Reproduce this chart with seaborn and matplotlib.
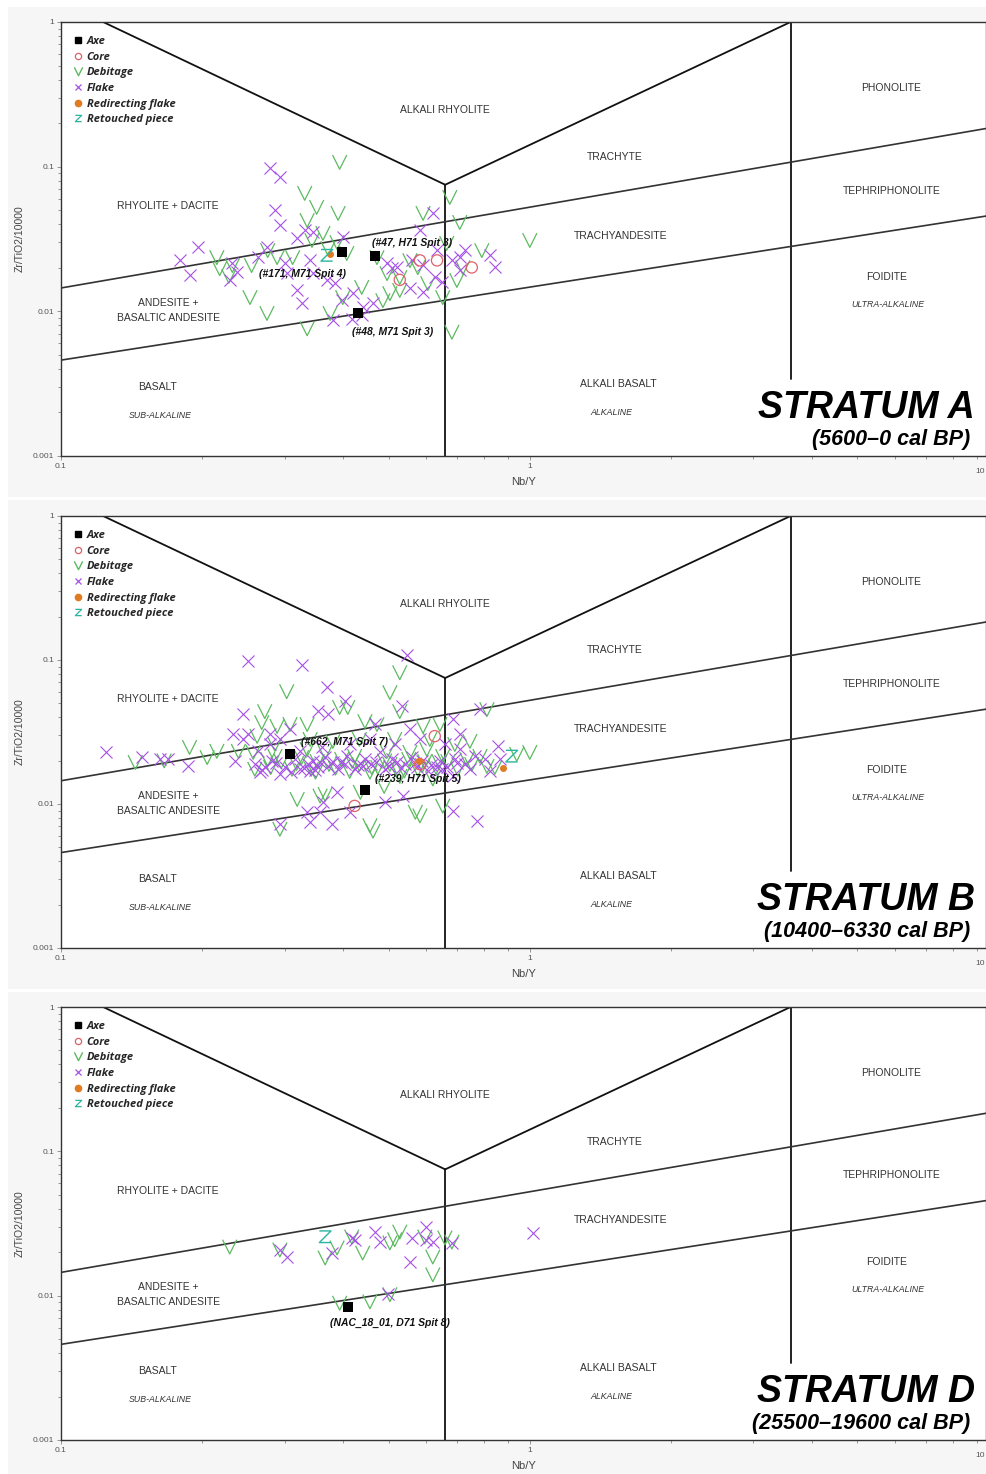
import matplotlib
matplotlib.use("Agg")
import matplotlib.pyplot as plt
import seaborn as sns
from matplotlib.lines import Line2D
from matplotlib.patches import Rectangle
from matplotlib.ticker import FixedLocator, FixedFormatter, LogLocator, NullFormatter

sns.set_theme(style="white")
plt.rcParams["font.family"] = ["Liberation Sans", "DejaVu Sans"]

# =====================================
# Colours / markers
# =====================================

AXE_C = "black"
CORE_C = "#e0606a"
DEB_C = "#5cba60"
FLAKE_C = "#a650e8"
REDIR_C = "#e07b22"
RETOUCH_C = "#2ab5a0"

V_MARK = [(-1, 1), (0, -1), (1, 1)]
Z_MARK = [(-1, 1), (1, 1), (-1, -1), (1, -1)]

# =====================================
# Stratum A  (Nb/Y, Zr/TiO2/10000)
# =====================================

a_flake = [(0.279, 0.0977), (0.293, 0.0846), (0.286, 0.0500), (0.293, 0.0394), (0.319, 0.0320),
           (0.345, 0.0352), (0.331, 0.0364), (0.196, 0.0277), (0.179, 0.0225), (0.188, 0.0177),
           (0.232, 0.0215), (0.237, 0.0186), (0.229, 0.0164), (0.263, 0.0236), (0.275, 0.0277),
           (0.300, 0.0215), (0.303, 0.0183), (0.319, 0.0140), (0.327, 0.0114), (0.340, 0.0225),
           (0.345, 0.0183), (0.369, 0.0164), (0.384, 0.0156), (0.399, 0.0325), (0.419, 0.0133),
           (0.397, 0.0119), (0.440, 0.0107), (0.380, 0.0087), (0.417, 0.0089), (0.438, 0.0094),
           (0.496, 0.0215), (0.508, 0.0198), (0.521, 0.0201), (0.560, 0.0225), (0.592, 0.0208),
           (0.583, 0.0364), (0.621, 0.0477), (0.634, 0.0264), (0.682, 0.0225), (0.709, 0.0236),
           (0.627, 0.0172), (0.649, 0.0159), (0.709, 0.0192), (0.822, 0.0244), (0.842, 0.0201),
           (0.555, 0.0144), (0.592, 0.0135), (0.463, 0.0114), (0.727, 0.0264)]
a_debitage = [(0.393, 0.1075), (0.331, 0.0656), (0.351, 0.0525), (0.390, 0.0477), (0.335, 0.0426),
              (0.343, 0.0310), (0.362, 0.0347), (0.371, 0.0273), (0.407, 0.0252), (0.215, 0.0236),
              (0.232, 0.0208), (0.218, 0.0198), (0.228, 0.0175), (0.255, 0.0208), (0.276, 0.0264),
              (0.289, 0.0236), (0.312, 0.0236), (0.253, 0.0125), (0.275, 0.0097), (0.335, 0.0076),
              (0.375, 0.0097), (0.472, 0.0236), (0.496, 0.0183), (0.528, 0.0172), (0.555, 0.0225),
              (0.577, 0.0201), (0.592, 0.0477), (0.606, 0.0156), (0.528, 0.0140), (0.503, 0.0133),
              (0.486, 0.0119), (0.675, 0.0615), (0.709, 0.0413), (0.665, 0.0296), (0.720, 0.0201),
              (0.699, 0.0164), (0.790, 0.0264), (1.000, 0.0310), (0.652, 0.0125), (0.682, 0.0072),
              (0.438, 0.0147), (0.399, 0.0125), (0.388, 0.0300)]
a_core = [(0.528, 0.0165), (0.583, 0.0225), (0.634, 0.0225), (0.752, 0.0201)]
a_axe = [(0.397, 0.0256), (0.467, 0.0240), (0.430, 0.0098)]
a_redirect = [(0.375, 0.0250)]
a_retouch = [(0.369, 0.0244)]
a_notes = [("(#171, M71 Spit 4)", 0.327, 0.0180),
           ("(#47, H71 Spit 3)", 0.560, 0.0296),
           ("(#48, M71 Spit 3)", 0.510, 0.0072)]

# =====================================
# Stratum B
# =====================================

b_flake = [(0.250, 0.098), (0.326, 0.093), (0.369, 0.065), (0.244, 0.042), (0.353, 0.044),
           (0.125, 0.0229), (0.149, 0.0211), (0.163, 0.0205), (0.169, 0.0205), (0.187, 0.0183),
           (0.233, 0.0305), (0.244, 0.0282), (0.250, 0.0305), (0.279, 0.0305), (0.293, 0.0282),
           (0.308, 0.033), (0.235, 0.0198), (0.266, 0.0167), (0.293, 0.0161), (0.340, 0.0169),
           (0.357, 0.0195), (0.357, 0.0088), (0.293, 0.0073), (0.340, 0.0075), (0.547, 0.109),
           (0.403, 0.0516), (0.371, 0.042), (0.533, 0.0477), (0.467, 0.0358), (0.685, 0.0388),
           (0.783, 0.0454), (0.855, 0.0252), (0.863, 0.0205), (0.764, 0.0215), (0.709, 0.024),
           (0.685, 0.0156), (0.634, 0.018), (0.575, 0.018), (0.521, 0.0195), (0.479, 0.0229),
           (0.440, 0.0183), (0.407, 0.0215), (0.380, 0.0195), (0.345, 0.0198), (0.536, 0.0114),
           (0.491, 0.0103), (0.388, 0.0121), (0.413, 0.0088), (0.378, 0.0073), (0.685, 0.0089),
           (0.771, 0.0076), (0.334, 0.0088), (0.362, 0.0103),
           (0.259, 0.0189), (0.272, 0.0180), (0.282, 0.0198), (0.301, 0.0180), (0.316, 0.0205),
           (0.323, 0.0175), (0.336, 0.0189), (0.353, 0.0180), (0.366, 0.0211), (0.390, 0.0175),
           (0.403, 0.0189), (0.423, 0.0175), (0.445, 0.0205), (0.458, 0.0189), (0.491, 0.0175),
           (0.508, 0.0205), (0.542, 0.0189), (0.560, 0.0211), (0.588, 0.0198), (0.606, 0.0169),
           (0.643, 0.0198), (0.665, 0.0180), (0.692, 0.0205), (0.727, 0.0189), (0.745, 0.0175),
           (0.802, 0.0205), (0.822, 0.0169), (0.263, 0.0233), (0.279, 0.0260), (0.413, 0.0260),
           (0.456, 0.0282), (0.515, 0.0260), (0.583, 0.0282), (0.659, 0.0260), (0.323, 0.0233),
           (0.360, 0.0248), (0.709, 0.0305), (0.555, 0.0330),
           (0.268, 0.0172), (0.287, 0.0192), (0.310, 0.0166), (0.330, 0.0178), (0.348, 0.0172),
           (0.372, 0.0184), (0.395, 0.0196), (0.430, 0.0186), (0.470, 0.0196), (0.500, 0.0184),
           (0.530, 0.0178), (0.570, 0.0192), (0.615, 0.0186), (0.650, 0.0176), (0.700, 0.0192)]
b_debitage = [(0.303, 0.0605), (0.272, 0.0440), (0.289, 0.0347), (0.308, 0.0358), (0.335, 0.0358),
              (0.268, 0.0369), (0.262, 0.0296), (0.188, 0.0248), (0.205, 0.0211), (0.215, 0.0233),
              (0.144, 0.0195), (0.166, 0.0200), (0.257, 0.0229), (0.286, 0.0215), (0.319, 0.0108),
              (0.366, 0.0117), (0.293, 0.0067), (0.239, 0.0233), (0.528, 0.0819), (0.503, 0.0596),
              (0.393, 0.0470), (0.409, 0.0470), (0.445, 0.0375), (0.472, 0.0358), (0.528, 0.0440),
              (0.592, 0.0347), (0.643, 0.0358), (0.810, 0.0454), (0.335, 0.0240), (0.366, 0.0229),
              (0.423, 0.0215), (0.496, 0.0233), (0.555, 0.0229), (0.603, 0.0240), (0.652, 0.0215),
              (0.734, 0.0205), (0.810, 0.0183), (1.000, 0.0229), (0.938, 0.0222), (0.349, 0.0167),
              (0.456, 0.0167), (0.528, 0.0156), (0.621, 0.0150), (0.357, 0.0114), (0.435, 0.0121),
              (0.489, 0.0133), (0.570, 0.0088), (0.583, 0.0083), (0.456, 0.0071), (0.463, 0.0065),
              (0.652, 0.0097),
              (0.259, 0.0175), (0.276, 0.0205), (0.295, 0.0198), (0.311, 0.0175), (0.326, 0.0211),
              (0.342, 0.0175), (0.373, 0.0189), (0.397, 0.0205), (0.413, 0.0169), (0.433, 0.0189),
              (0.474, 0.0180), (0.503, 0.0189), (0.523, 0.0175), (0.552, 0.0205), (0.577, 0.0175),
              (0.597, 0.0198), (0.631, 0.0180), (0.669, 0.0198), (0.702, 0.0175), (0.752, 0.0189),
              (0.783, 0.0215), (0.842, 0.0180), (0.286, 0.0260), (0.340, 0.0282), (0.380, 0.0273),
              (0.433, 0.0282), (0.515, 0.0282), (0.612, 0.0282), (0.692, 0.0260), (0.745, 0.0273),
              (0.280, 0.0180), (0.318, 0.0192), (0.352, 0.0198), (0.385, 0.0178), (0.418, 0.0198),
              (0.460, 0.0180), (0.490, 0.0200), (0.540, 0.0170), (0.590, 0.0186), (0.640, 0.0198)]
b_core = [(0.627, 0.0296), (0.423, 0.0097), (0.583, 0.0189)]
b_axe = [(0.308, 0.0222), (0.445, 0.0125)]
b_redirect = [(0.875, 0.0177), (0.580, 0.0198)]
b_retouch = [(0.915, 0.0215)]
b_notes = [("(#662, M71 Spit 7)", 0.403, 0.0269),
           ("(#239, H71 Spit 5)", 0.577, 0.0150)]

# =====================================
# Stratum D
# =====================================

d_flake = [(0.293, 0.0208), (0.303, 0.0186), (0.378, 0.0198), (0.417, 0.0252), (0.423, 0.0244),
           (0.467, 0.0277), (0.479, 0.0236), (0.560, 0.0252), (0.600, 0.0300), (0.600, 0.0244),
           (0.621, 0.0236), (0.555, 0.0172), (0.682, 0.0233), (1.014, 0.0273), (0.498, 0.0102)]
d_debitage = [(0.229, 0.0218), (0.293, 0.0208), (0.366, 0.0183), (0.388, 0.0215), (0.417, 0.0256),
              (0.440, 0.0198), (0.503, 0.0233), (0.528, 0.0277), (0.597, 0.0256), (0.621, 0.0186),
              (0.621, 0.0140), (0.659, 0.0252), (0.682, 0.0236), (0.393, 0.0089), (0.456, 0.0091),
              (0.503, 0.0102), (0.515, 0.0245)]
d_core = []
d_axe = [(0.409, 0.0084)]
d_redirect = []
d_retouch = [(0.366, 0.0256)]
d_notes = [("(NAC_18_01, D71 Spit 8)", 0.503, 0.0065)]

# =====================================
# Classification field boundaries
# =====================================

boundaries = [
    ([0.123, 0.66], [1.0, 0.075]),
    ([0.66, 3.6], [0.075, 1.0]),
    ([0.66, 0.66], [0.075, 0.001]),
    ([3.6, 3.6], [1.0, 0.0034]),
]
slopes = [
    ([0.1, 10], [0.0145, 0.19]),
    ([0.1, 10], [0.0046, 0.047]),
]

fields = [
    ("ALKALI RHYOLITE", 0.415, 0.797, "normal", 7.5),
    ("PHONOLITE", 0.897, 0.848, "normal", 7.5),
    ("TRACHYTE", 0.599, 0.689, "normal", 7.5),
    ("TEPHRIPHONOLITE", 0.898, 0.611, "normal", 7.5),
    ("RHYOLITE + DACITE", 0.115, 0.576, "normal", 7.5),
    ("TRACHYANDESITE", 0.605, 0.507, "normal", 7.5),
    ("FOIDITE", 0.892, 0.412, "normal", 7.5),
    ("ULTRA-ALKALINE", 0.894, 0.348, "italic", 6.3),
    ("ANDESITE +", 0.116, 0.353, "normal", 7.5),
    ("BASALTIC ANDESITE", 0.116, 0.318, "normal", 7.5),
    ("BASALT", 0.104, 0.159, "normal", 7.5),
    ("SUB-ALKALINE", 0.107, 0.094, "italic", 6.3),
    ("ALKALI BASALT", 0.602, 0.166, "normal", 7.5),
    ("ALKALINE", 0.595, 0.101, "italic", 6.3),
]

panels = [
    ("STRATUM A", "(5600\u20130 cal BP)", a_axe, a_core, a_debitage, a_flake, a_redirect, a_retouch, a_notes),
    ("STRATUM B", "(10400\u20136330 cal BP)", b_axe, b_core, b_debitage, b_flake, b_redirect, b_retouch, b_notes),
    ("STRATUM D", "(25500\u201319600 cal BP)", d_axe, d_core, d_debitage, d_flake, d_redirect, d_retouch, d_notes),
]

# axes boxes in pixels (left, top, right, bottom) of a 987x1474 figure
W, H = 987, 1474
boxes = [(61, 22, 986, 456), (61, 516, 986, 948), (61, 1007, 986, 1440)]
backs = [(8, 7, 987, 497), (8, 500, 987, 989), (8, 992, 987, 1474)]


def xy(points):
    if not points:
        return [], []
    xs, ys = zip(*points)
    return list(xs), list(ys)


def scatter(ax, points, **kws):
    if not points:
        return
    xs, ys = xy(points)
    sns.scatterplot(x=xs, y=ys, ax=ax, legend=False, **kws)


fig = plt.figure(figsize=(W / 100, H / 100), dpi=100)
fig.patch.set_facecolor("white")

for (l, t, r, b) in backs:
    fig.add_artist(Rectangle((l / W, 1 - b / H), (r - l) / W, (b - t) / H,
                             transform=fig.transFigure, facecolor="#f6f6f6",
                             edgecolor="none", zorder=-10))

for (title, period, axe, core, deb, flake, redir, retouch, notes), (l, t, r, b) in zip(panels, boxes):
    ax = fig.add_axes([l / W, 1 - b / H, (r - l) / W, (b - t) / H])
    ax.set_facecolor("white")
    ax.set_xscale("log")
    ax.set_yscale("log")

    for xs, ys in boundaries:
        ax.plot(xs, ys, color="#111111", lw=1.3, zorder=1)
    for xs, ys in slopes:
        ax.plot(xs, ys, color="#333333", lw=1.2, zorder=1)

    scatter(ax, deb, marker=V_MARK, s=105, facecolor="none", edgecolor=DEB_C, linewidth=0.9, zorder=3)
    scatter(ax, flake, marker="x", s=75, color=FLAKE_C, linewidth=0.8, zorder=3)
    scatter(ax, core, marker="o", s=65, facecolor="none", edgecolor=CORE_C, linewidth=0.9, zorder=4)
    scatter(ax, redir, marker="o", s=25, color=REDIR_C, edgecolor=REDIR_C, linewidth=0, zorder=4)
    scatter(ax, retouch, marker=Z_MARK, s=70, facecolor="none", edgecolor=RETOUCH_C, linewidth=1.0, zorder=4)
    scatter(ax, axe, marker="s", s=45, color=AXE_C, edgecolor=AXE_C, linewidth=0, zorder=5)

    for text, nx, ny in notes:
        ax.text(nx, ny, text, ha="center", va="center", fontsize=7.5,
                fontweight="bold", fontstyle="italic", color="#111111", zorder=6)

    for text, fx, fy, style, size in fields:
        ax.text(fx, fy, text, transform=ax.transAxes, ha="center", va="center",
                fontsize=size, fontstyle=style, color="#333333")

    ax.text(0.988, 0.111, title, transform=ax.transAxes, ha="right", va="center",
            fontsize=27, fontweight="bold", fontstyle="italic", color="black")
    ax.text(0.983, 0.039, period, transform=ax.transAxes, ha="right", va="center",
            fontsize=15.5, fontweight="bold", fontstyle="italic", color="black")

    # legend
    handles = [
        Line2D([], [], ls="none", marker="s", ms=4.5, color=AXE_C),
        Line2D([], [], ls="none", marker="o", ms=4.5, mfc="none", mec=CORE_C, mew=0.9),
        Line2D([], [], ls="none", marker=V_MARK, ms=6, mfc="none", mec=DEB_C, mew=1.0),
        Line2D([], [], ls="none", marker="x", ms=4, mec=FLAKE_C, mew=0.9),
        Line2D([], [], ls="none", marker="o", ms=4.5, color=REDIR_C),
        Line2D([], [], ls="none", marker=Z_MARK, ms=4.5, mfc="none", mec=RETOUCH_C, mew=0.9),
    ]
    labels = ["Axe", "Core", "Debitage", "Flake", "Redirecting flake", "Retouched piece"]
    ax.legend(handles, labels, loc="upper left", bbox_to_anchor=(0.009, 0.978),
              frameon=False, borderaxespad=0, handlelength=0.7, handletextpad=0.45,
              labelspacing=0.42,
              prop=dict(family="Open Sans", weight="bold", style="italic", size=8))

    ax.set_xlim(0.1, 9.4)
    ax.set_ylim(0.001, 1)
    ax.xaxis.set_major_locator(FixedLocator([0.1, 1]))
    ax.xaxis.set_major_formatter(FixedFormatter(["0.1", "1"]))
    ax.yaxis.set_major_locator(FixedLocator([0.001, 0.01, 0.1, 1]))
    ax.yaxis.set_major_formatter(FixedFormatter(["0.001", "0.01", "0.1", "1"]))
    ax.xaxis.set_minor_locator(LogLocator(base=10, subs=range(2, 10)))
    ax.yaxis.set_minor_locator(LogLocator(base=10, subs=range(2, 10)))
    ax.xaxis.set_minor_formatter(NullFormatter())
    ax.yaxis.set_minor_formatter(NullFormatter())
    ax.tick_params(which="both", bottom=True, left=True, direction="out",
                   color="#888888", width=0.6, labelsize=6, labelcolor="#555555", pad=2)
    ax.tick_params(which="major", length=3)
    ax.tick_params(which="minor", length=2)
    ax.text(0.999, -0.035, "10", transform=ax.transAxes, ha="right", va="center",
            fontsize=6, color="#555555", clip_on=False)

    ax.set_xlabel("Nb/Y", fontsize=8, color="#444444", labelpad=5)
    ax.set_ylabel("Zr/TiO2/10000", fontsize=7.5, color="#444444", labelpad=6)

    for sp in ax.spines.values():
        sp.set_color("#333333")
        sp.set_linewidth(1.0)

fig.savefig("out.png", dpi=100, facecolor=fig.get_facecolor())
